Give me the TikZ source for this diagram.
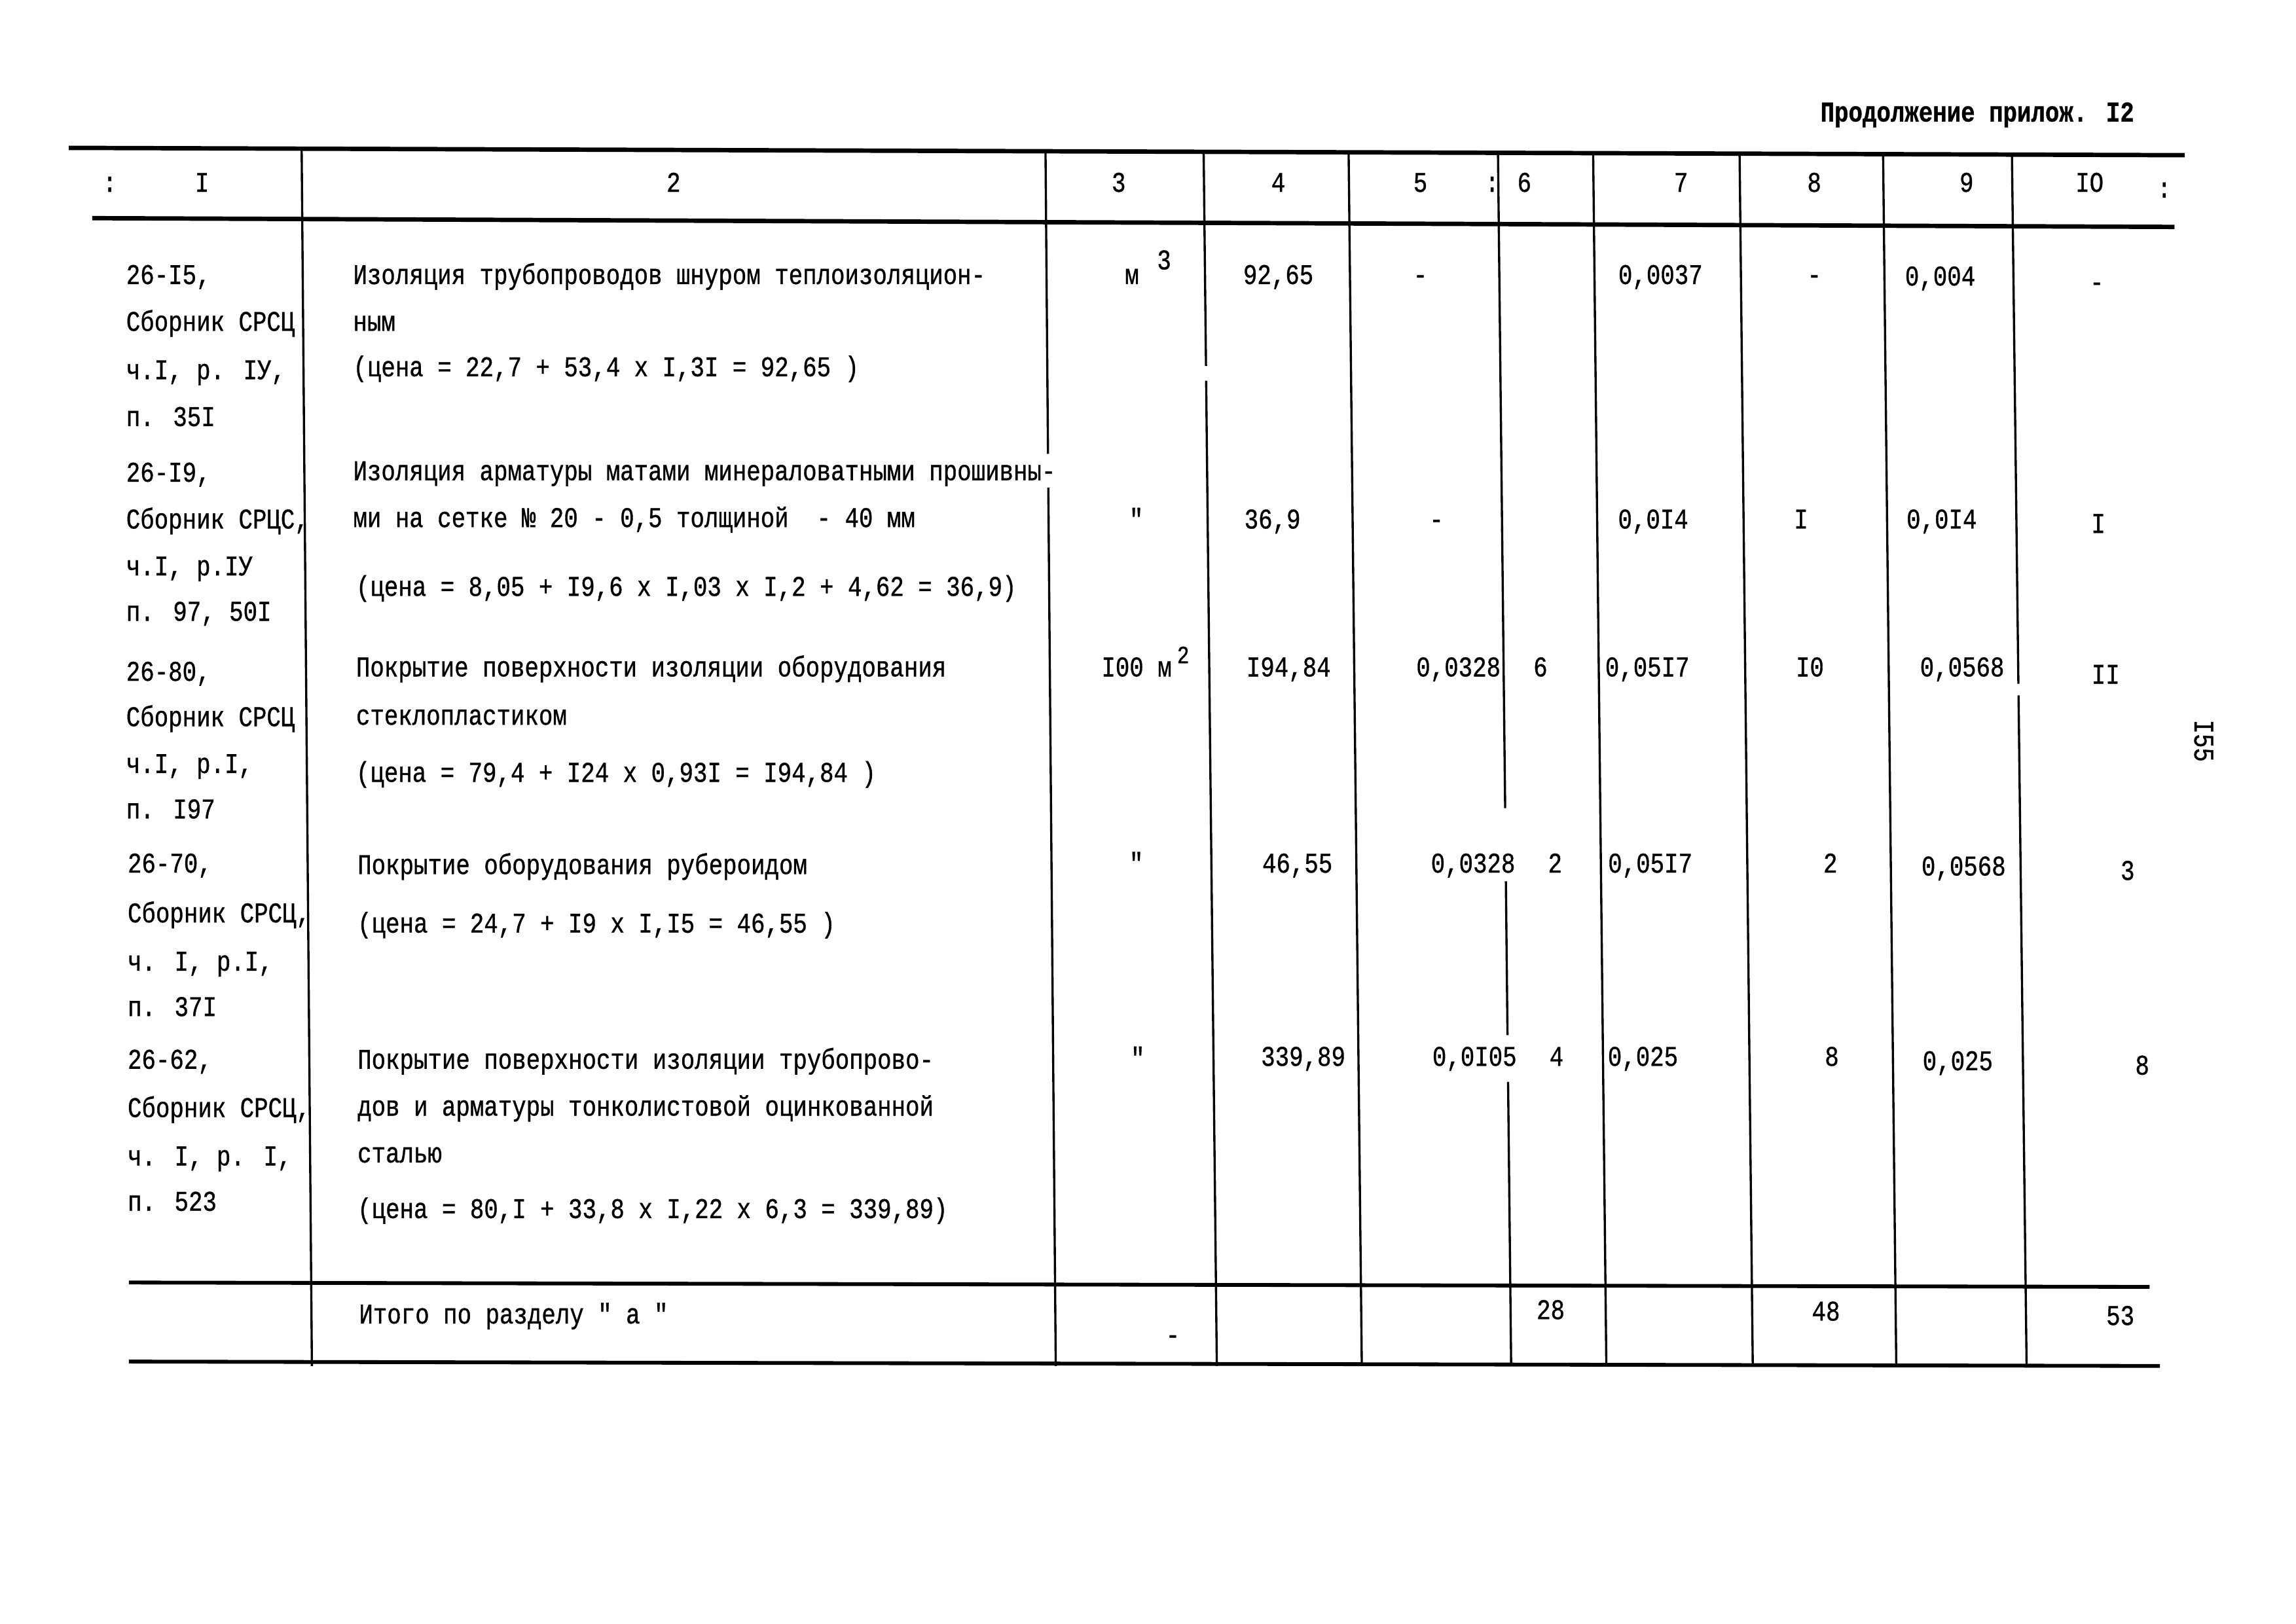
\documentclass[tikz,border=0pt]{standalone}
\usepackage{fontspec}
\setmainfont[FakeStretch=0.82,FakeBold=0.8,Ligatures=TeXOff]{Liberation Mono}
\begin{document}
\begin{tikzpicture}[x=1pt,y=-1pt,
  every node/.style={inner sep=0pt},
  tw/.style={anchor=base west,font=\fontsize{19.5}{23}\selectfont},
  num/.style={anchor=base,font=\fontsize{19.5}{23}\selectfont},
  ttl/.style={anchor=base west,font=\fontsize{19.5}{23}\selectfont\bfseries},
  vl/.style={line width=1.5pt},
  hl/.style={line width=3pt},
  hlt/.style={line width=2.6pt}]
\useasboundingbox (0,0) rectangle (1568,1109);
% ---- horizontal rules
\draw[hl] (47,101) -- (1492,106);
\draw[hl] (63,149) -- (1485,155);
\draw[hlt] (88,876) -- (1468,879);
\draw[hlt] (88,930) -- (1475,933);
% ---- vertical rules
\draw[vl] (206,101) -- (213,933);
\draw[vl] (714,103) -- (715.7,310);
\draw[vl] (715.9,333) -- (721,933);
\draw[vl] (822,104) -- (823.6,250);
\draw[vl] (823.7,260) -- (831,933);
\draw[vl] (921,104) -- (930,933);
\draw[vl] (1023,104) -- (1027.9,552);
\draw[vl] (1028.4,602) -- (1029.5,707);
\draw[vl] (1029.9,739) -- (1032,933);
\draw[vl] (1088,105) -- (1097,933);
\draw[vl] (1188,105) -- (1197,933);
\draw[vl] (1286,105) -- (1295,933);
\draw[vl] (1374,106) -- (1378.4,467);
\draw[vl] (1378.5,475) -- (1384,933);
% ---- title and page number
\node[ttl] (title) at (1243,83) {Продолжение прилож. I2};
\node[font=\fontsize{19.5}{23}\selectfont,rotate=-90] (page) at (1505,506) {I55};
% ---- header
\node[num] (h0) at (75,131) {:};
\node[num] (h1) at (138,131) {I};
\node[num] (h2) at (460,131) {2};
\node[num] (h3) at (764,131) {3};
\node[num] (h4) at (873,131) {4};
\node[num] (h5) at (970,131) {5};
\node[num] (h5c) at (1019,131) {:};
\node[num] (h6) at (1041,131) {6};
\node[num] (h7) at (1148,131) {7};
\node[num] (h8) at (1239,131) {8};
\node[num] (h9) at (1343,131) {9};
\node[num] (h10) at (1427,131) {IO};
\node[num] (h11) at (1478,135) {:};
% ---- column 1
\node[tw] (a1) at (86,194) {26-I5,};
\node[tw] (a2) at (86,226) {Сборник СРСЦ};
\node[tw] (a3) at (86,259) {ч.I, р. IУ,};
\node[tw] (a4) at (86,291) {п. 35I};
\node[tw] (b1) at (86,329) {26-I9,};
\node[tw] (b2) at (86,361) {Сборник СРЦС,};
\node[tw] (b3) at (86,393) {ч.I, р.IУ};
\node[tw] (b4) at (86,424) {п. 97, 50I};
\node[tw] (c1) at (86,465) {26-80,};
\node[tw] (c2) at (86,496) {Сборник СРСЦ};
\node[tw] (c3) at (86,528) {ч.I, р.I,};
\node[tw] (c4) at (86,559) {п. I97};
\node[tw] (d1) at (87,596) {26-70,};
\node[tw] (d2) at (87,630) {Сборник СРСЦ,};
\node[tw] (d3) at (87,663) {ч. I, р.I,};
\node[tw] (d4) at (87,694) {п. 37I};
\node[tw] (e1) at (87,730) {26-62,};
\node[tw] (e2) at (87,763) {Сборник СРСЦ,};
\node[tw] (e3) at (87,796) {ч. I, р. I,};
\node[tw] (e4) at (87,827) {п. 523};
% ---- column 2
\node[tw] (ta1) at (241,194) {Изоляция трубопроводов шнуром теплоизоляцион-};
\node[tw] (ta2) at (241,226) {ным};
\node[tw] (ta3) at (241,257) {(цена = 22,7 + 53,4 x I,3I = 92,65 )};
\node[tw] (tb1) at (241,328) {Изоляция арматуры матами минераловатными прошивны-};
\node[tw] (tb2) at (241,360) {ми на сетке № 20 - 0,5 толщиной\ \ - 40 мм};
\node[tw] (tb3) at (243,407) {(цена = 8,05 + I9,6 x I,03 x I,2 + 4,62 = 36,9)};
\node[tw] (tc1) at (243,462) {Покрытие поверхности изоляции оборудования};
\node[tw] (tc2) at (243,495) {стеклопластиком};
\node[tw] (tc3) at (243,534) {(цена = 79,4 + I24 x 0,93I = I94,84 )};
\node[tw] (td1) at (244,597) {Покрытие оборудования рубероидом};
\node[tw] (td2) at (244,637) {(цена = 24,7 + I9 x I,I5 = 46,55 )};
\node[tw] (te1) at (244,730) {Покрытие поверхности изоляции трубопрово-};
\node[tw] (te2) at (244,762) {дов и арматуры тонколистовой оцинкованной};
\node[tw] (te3) at (244,794) {сталью};
\node[tw] (te4) at (244,832) {(цена = 80,I + 33,8 x I,22 x 6,3 = 339,89)};
\node[tw] (tt) at (245,904) {Итого по разделу " а "};
% ---- row 1 numbers
\node[num] (r1c3) at (773,194) {м};
\node[num] (r1c3s) at (795,184) {3};
\node[num] (r1c4) at (873,194) {92,65};
\node[num] (r1c5) at (970,194) {-};
\node[num] (r1c7) at (1134,194) {0,0037};
\node[num] (r1c8) at (1239,194) {-};
\node[num] (r1c9) at (1325,195) {0,004};
\node[num] (r1c10) at (1432,199) {-};
% ---- row 2 numbers
\node[num] (r2c3) at (776,361) {"};
\node[num] (r2c4) at (869,361) {36,9};
\node[num] (r2c5) at (981,361) {-};
\node[num] (r2c7) at (1129,361) {0,0I4};
\node[num] (r2c8) at (1230,361) {I};
\node[num] (r2c9) at (1326,361) {0,0I4};
\node[num] (r2c10) at (1433,364) {I};
% ---- row 3 numbers
\node[tw] (r3c3) at (752,462) {I00 м};
\node[num,font=\fontsize{17}{20}\selectfont] (r3c3s) at (808,453) {2};
\node[num] (r3c4) at (880,462) {I94,84};
\node[num] (r3c5) at (996,462) {0,0328};
\node[num] (r3c6) at (1052,462) {6};
\node[num] (r3c7) at (1125,462) {0,05I7};
\node[num] (r3c8) at (1236,462) {I0};
\node[num] (r3c9) at (1340,462) {0,0568};
\node[num] (r3c10) at (1438,467) {II};
% ---- row 4 numbers
\node[num] (r4c3) at (776,596) {"};
\node[num] (r4c4) at (886,596) {46,55};
\node[num] (r4c5) at (1006,596) {0,0328};
\node[num] (r4c6) at (1062,596) {2};
\node[num] (r4c7) at (1127,596) {0,05I7};
\node[num] (r4c8) at (1250,596) {2};
\node[num] (r4c9) at (1341,598) {0,0568};
\node[num] (r4c10) at (1453,601) {3};
% ---- row 5 numbers
\node[num] (r5c3) at (777,729) {"};
\node[num] (r5c4) at (890,728) {339,89};
\node[num] (r5c5) at (1007,728) {0,0I05};
\node[num] (r5c6) at (1063,728) {4};
\node[num] (r5c7) at (1122,728) {0,025};
\node[num] (r5c8) at (1251,728) {8};
\node[num] (r5c9) at (1337,731) {0,025};
\node[num] (r5c10) at (1463,734) {8};
% ---- totals
\node[num] (s3) at (801,918) {-};
\node[num] (s6) at (1059,901) {28};
\node[num] (s8) at (1247,902) {48};
\node[num] (s10) at (1448,905) {53};
\end{tikzpicture}
\end{document}
